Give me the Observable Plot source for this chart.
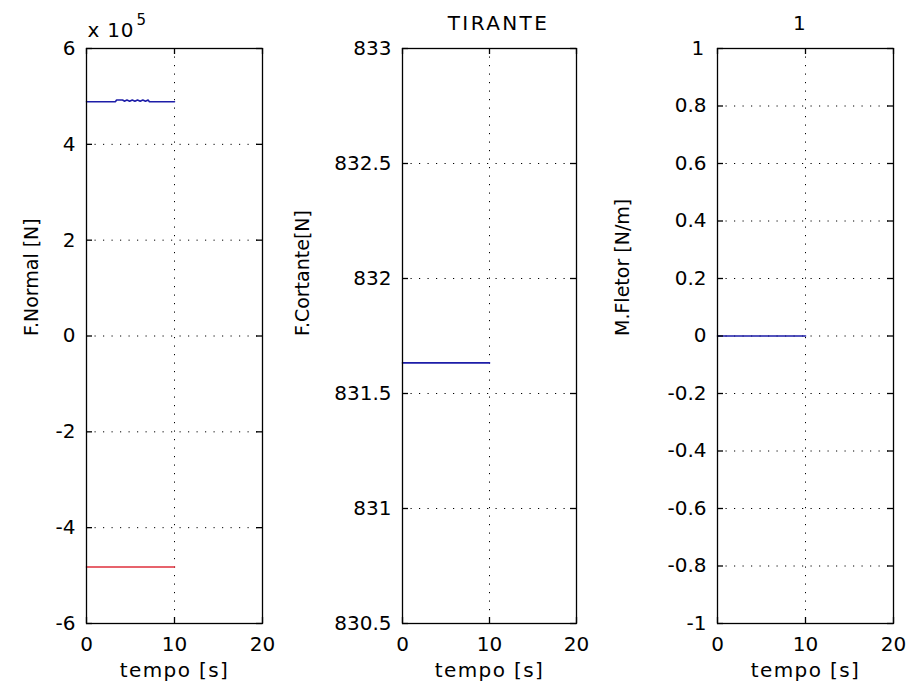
<!DOCTYPE html>
<html>
<head>
<meta charset="utf-8">
<script src="https://cdn.jsdelivr.net/npm/d3@7"></script>
<script src="https://cdn.jsdelivr.net/npm/@observablehq/plot@0.6"></script>
<style>
  html, body { margin: 0; padding: 0; background: #fff; }
  #fig { position: relative; width: 909px; height: 687px; background: #fff; }
  #fig svg { position: absolute; top: 0; overflow: visible; }
</style>
</head>
<body>
<div id="fig"></div>
<script>
// Tempo axis shared by all three panels
const tempoTicks = [0, 10, 20];

// Panel 1: esforço normal (N), two series
const normalTempoAzul = [0, 3.3, 3.4, 4.1, 4.3, 4.6, 4.9, 5.2, 5.5, 5.8, 6.1, 6.4, 6.7, 7.0, 7.15, 10];
const normalAzul = [489000, 489000, 492500, 492500, 490000, 492500, 490000, 492500, 490000, 492500, 490000, 492500, 490000, 492500, 489000, 489000];
const normalTempoVermelho = [0, 10];
const normalVermelho = [-482000, -482000];
const normalTicks = [-600000, -400000, -200000, 0, 200000, 400000, 600000];

// Panel 2: esforço cortante (N)
const cortanteTempo = [0, 10];
const cortante = [831.633, 831.633];
const cortanteTicks = [830.5, 831, 831.5, 832, 832.5, 833];

// Panel 3: momento fletor (N/m)
const fletorTempo = [0, 10];
const fletor = [0, 0];
const fletorTicks = [-1, -0.8, -0.6, -0.4, -0.2, 0, 0.2, 0.4, 0.6, 0.8, 1];

const FONT = "DejaVu Sans, Liberation Sans, sans-serif";
const fmt = (d) => String(+d.toFixed(6)).replace("\u2212", "-");

// widen a few labels with letter spacing
function spaceText(svg, content, spacing) {
  d3.select(svg).selectAll("text")
    .filter(function () { return this.textContent === content; })
    .attr("letter-spacing", spacing);
}

function panel({left, width, marginLeft, marginRight, yDomain, yTicks, yFormat, series, yLabel, yLabelDx, title, titleDx, extra = []}) {
  const height = 687, marginTop = 48, marginBottom = 64;
  const innerW = width - marginLeft - marginRight;
  const innerH = height - marginTop - marginBottom;
  const inner = yTicks.filter((t) => t > yDomain[0] && t < yDomain[1]);
  const dots = {stroke: "black", strokeOpacity: 1, strokeWidth: 1, strokeDasharray: "1.2,7.3"};
  const svg = Plot.plot({
    width, height, marginLeft, marginRight, marginTop, marginBottom,
    style: {fontFamily: FONT, fontSize: "20px", color: "black", background: "transparent", overflow: "visible"},
    x: {domain: [0, 20]},
    y: {domain: yDomain},
    marks: [
      // dotted grid
      Plot.ruleX([10], {...dots}),
      Plot.ruleY(inner, {...dots}),
      // data
      ...series.map((s) => Plot.line(s.x, {x: s.x, y: s.y, stroke: s.color, strokeWidth: 1.6})),
      // box and inward tick marks on all four sides
      Plot.frame({stroke: "black", strokeWidth: 1.3}),
      Plot.tickY(yTicks, {y: (d) => d, insetRight: innerW - 6, stroke: "black", strokeWidth: 1.3}),
      Plot.tickY(yTicks, {y: (d) => d, insetLeft: innerW - 6, stroke: "black", strokeWidth: 1.3}),
      Plot.tickX(tempoTicks, {x: (d) => d, insetTop: innerH - 6, stroke: "black", strokeWidth: 1.3}),
      Plot.tickX(tempoTicks, {x: (d) => d, insetBottom: innerH - 6, stroke: "black", strokeWidth: 1.3}),
      // tick labels
      Plot.axisY(yTicks, {tickSize: 0, tickPadding: 11, tickFormat: yFormat, fontSize: 20, label: null}),
      Plot.axisX(tempoTicks, {tickSize: 0, tickPadding: 13, tickFormat: (d) => String(d), fontSize: 20, label: null}),
      // axis titles
      Plot.text(["tempo [s]"], {text: (d) => d, frameAnchor: "bottom", lineAnchor: "middle", dy: 47.5, fontSize: 20}),
      Plot.text([yLabel], {text: (d) => d, frameAnchor: "left", lineAnchor: "middle", rotate: -90, dx: yLabelDx, fontSize: 19}),
      ...(title ? [Plot.text([title], {text: (d) => d, frameAnchor: "top", lineAnchor: "middle", dy: -24.5, dx: titleDx, fontSize: 20})] : []),
      ...extra
    ]
  });
  svg.style.left = left + "px";
  spaceText(svg, "tempo [s]", "1.4px");
  if (title) spaceText(svg, title, "2.4px");
  spaceText(svg, "x 10", "0.8px");
  document.getElementById("fig").appendChild(svg);
}

panel({
  left: 0, width: 303, marginLeft: 86, marginRight: 41,
  yDomain: [-600000, 600000], yTicks: normalTicks,
  yFormat: (d) => fmt(d / 1e5),
  series: [
    {x: normalTempoAzul, y: normalAzul, color: "#1d1da8"},
    {x: normalTempoVermelho, y: normalVermelho, color: "#e0303c"}
  ],
  yLabel: "F.Normal [N]", yLabelDx: -55,
  extra: [
    Plot.text(["x 10"], {text: (d) => d, frameAnchor: "top-left", lineAnchor: "middle", textAnchor: "start", dx: 1, dy: -18, fontSize: 20}),
    Plot.text(["5"], {text: (d) => d, frameAnchor: "top-left", lineAnchor: "middle", textAnchor: "start", dx: 50, dy: -28, fontSize: 15})
  ]
});

panel({
  left: 303, width: 303, marginLeft: 99, marginRight: 30,
  yDomain: [830.5, 833], yTicks: cortanteTicks,
  yFormat: (d) => fmt(d),
  series: [{x: cortanteTempo, y: cortante, color: "#1d1da8"}],
  yLabel: "F.Cortante[N]", yLabelDx: -100,
  title: "TIRANTE", titleDx: 9
});

panel({
  left: 606, width: 303, marginLeft: 111, marginRight: 16,
  yDomain: [-1, 1], yTicks: fletorTicks,
  yFormat: (d) => fmt(d),
  series: [{x: fletorTempo, y: fletor, color: "#1d1da8"}],
  yLabel: "M.Fletor [N/m]", yLabelDx: -95,
  title: "1", titleDx: -5
});
</script>
</body>
</html>
